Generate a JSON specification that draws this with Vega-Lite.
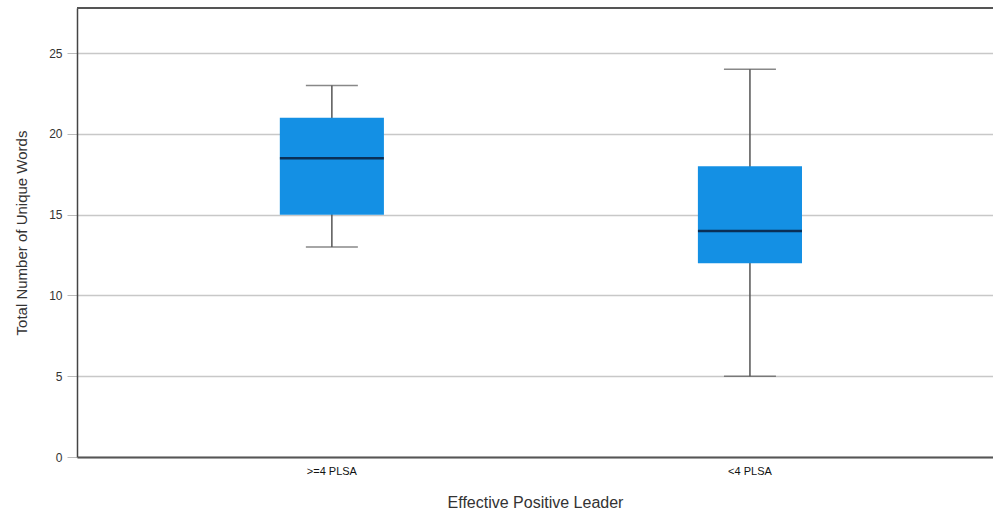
{
  "$schema": "https://vega.github.io/schema/vega-lite/v6.json",
  "width": 916,
  "height": 449,
  "autosize": {"type": "none"},
  "padding": {"left": 77, "top": 8, "right": 0, "bottom": 58},
  "background": "white",
  "config": {
    "font": "Liberation Sans",
    "view": {"stroke": null}
  },
  "data": {
    "values": [
      {"group": ">=4 PLSA", "min": 13, "q1": 15, "median": 18.5, "q3": 21, "max": 23},
      {"group": "<4 PLSA", "min": 5, "q1": 12, "median": 14, "q3": 18, "max": 24}
    ]
  },
  "layer": [
    {
      "mark": {"type": "rule", "color": "#555", "strokeWidth": 1.5},
      "encoding": {
        "x": {
          "field": "group",
          "type": "nominal",
          "sort": [">=4 PLSA", "<4 PLSA"],
          "scale": {"paddingInner": 0.751, "paddingOuter": 0.471, "align": 0.515},
          "axis": {
            "title": "Effective Positive Leader",
            "titleFontSize": 16,
            "titleFontWeight": "normal",
            "titleColor": "#333",
            "titlePadding": 18,
            "labelAngle": 0,
            "labelFontSize": 11,
            "labelColor": "#111",
            "labelPadding": 8,
            "ticks": false,
            "domainColor": "#555",
            "domainWidth": 2
          }
        },
        "y": {
          "field": "min",
          "type": "quantitative",
          "scale": {"domain": [0, 27.8], "nice": false},
          "axis": {
            "title": "Total Number of Unique Words",
            "titleFontSize": 15,
            "titleFontWeight": "normal",
            "titleColor": "#333",
            "titlePadding": 19,
            "values": [0, 5, 10, 15, 20, 25],
            "labelFontSize": 12,
            "labelColor": "#333",
            "labelPadding": 5,
            "tickSize": 10,
            "tickColor": "#bbb",
            "grid": true,
            "gridColor": "#c8c8c8",
            "gridWidth": 1.5,
            "domainColor": "#444",
            "domainWidth": 1.5
          }
        },
        "y2": {"field": "max"}
      }
    },
    {
      "mark": {"type": "bar", "color": "#1490E4"},
      "encoding": {
        "x": {"field": "group", "type": "nominal", "sort": [">=4 PLSA", "<4 PLSA"]},
        "y": {"field": "q1", "type": "quantitative"},
        "y2": {"field": "q3"}
      }
    },
    {
      "mark": {"type": "tick", "color": "#05051a", "thickness": 2.5, "size": 104},
      "encoding": {
        "x": {"field": "group", "type": "nominal", "sort": [">=4 PLSA", "<4 PLSA"]},
        "y": {"field": "median", "type": "quantitative"}
      }
    },
    {
      "mark": {"type": "tick", "color": "#555", "thickness": 1.5, "size": 52},
      "encoding": {
        "x": {"field": "group", "type": "nominal", "sort": [">=4 PLSA", "<4 PLSA"]},
        "y": {"field": "min", "type": "quantitative"}
      }
    },
    {
      "mark": {"type": "tick", "color": "#555", "thickness": 1.5, "size": 52},
      "encoding": {
        "x": {"field": "group", "type": "nominal", "sort": [">=4 PLSA", "<4 PLSA"]},
        "y": {"field": "max", "type": "quantitative"}
      }
    },
    {
      "data": {"values": [{"top": 27.8}]},
      "mark": {"type": "rule", "color": "#555", "strokeWidth": 2},
      "encoding": {"y": {"field": "top", "type": "quantitative"}}
    }
  ]
}
